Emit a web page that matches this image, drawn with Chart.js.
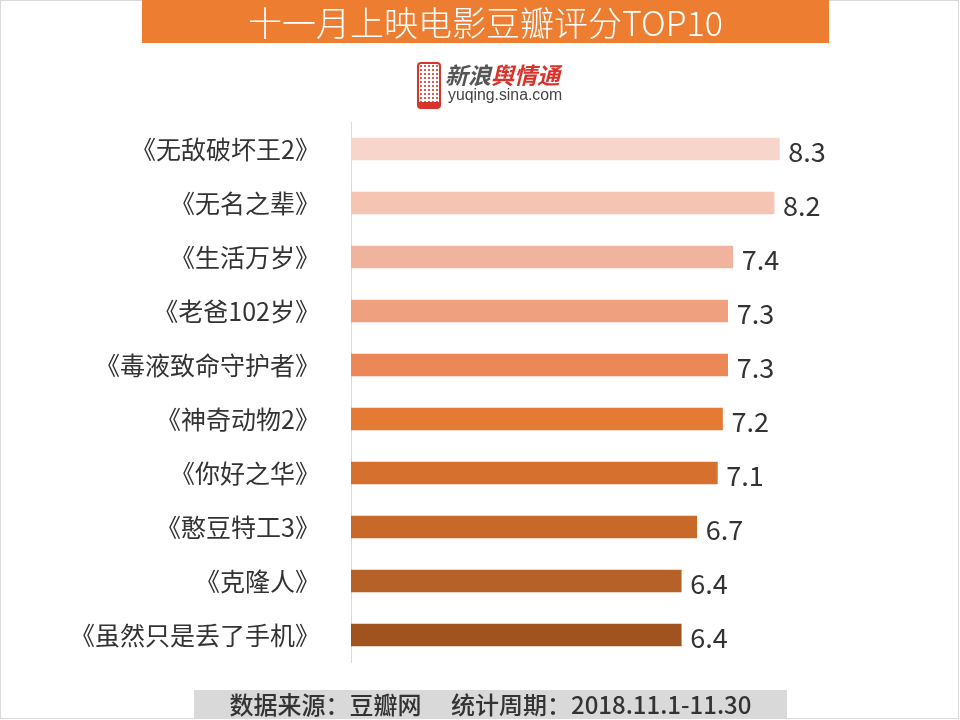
<!DOCTYPE html>
<html>
<head>
<meta charset="utf-8">
<script src="https://cdn.jsdelivr.net/npm/chart.js@4.4.0/dist/chart.umd.min.js"></script>
<style>
  html, body { margin: 0; padding: 0; background: #fff; }
  body { width: 960px; height: 720px; position: relative; overflow: hidden;
         font-family: "Noto Sans CJK SC", "Noto Sans", sans-serif; }
  #frame { position: absolute; left: 0; top: 0; width: 959px; height: 719px;
           box-sizing: border-box; border: 1px solid #d9d9d9; }
  #title { position: absolute; left: 142px; top: 0; width: 687px; height: 43px;
           background: #ED7D31; color: #fff; font-size: 34px; line-height: 43px;
           text-align: center; font-weight: 300; }
  #logo { position: absolute; left: 416px; top: 61px; width: 160px; height: 46px; }
  #phone { position: absolute; left: 1px; top: 1px; width: 20px; height: 38px;
           border: 2px solid #D9342B; border-radius: 4px; border-bottom-width: 7px;
           background: radial-gradient(circle, #E05A50 1px, transparent 1.3px) 0 0 / 4px 4px; }
  #logo .cn { position: absolute; left: 29px; top: 0px; font-size: 23px; line-height: 26px;
              font-style: italic; font-weight: bold; }
  #logo .cn .a { color: #555; }
  #logo .cn .b { color: #D9342B; }
  #logo .en { position: absolute; left: 32px; top: 25px; font-family: "Liberation Sans", Arial, sans-serif;
              font-size: 15.8px; color: #444; line-height: 18px; }
  #footer { position: absolute; left: 194px; top: 690px; width: 593px; height: 28px;
            background: #D9D9D9; color: #333; font-size: 24px; line-height: 28px;
            text-align: center; white-space: pre; font-weight: 500; }
  #wrap { position: absolute; left: 0; top: 0; width: 960px; height: 720px; }
</style>
</head>
<body>
<div id="frame"></div>
<div id="wrap"><canvas id="ChartScores" width="960" height="720"></canvas></div>
<div id="title">十一月上映电影豆瓣评分TOP10</div>
<div id="logo">
  <div id="phone"></div>
  <div class="cn"><span class="a">新浪</span><span class="b">舆情通</span></div>
  <div class="en">yuqing.sina.com</div>
</div>
<div id="footer">数据来源：豆瓣网　 统计周期：2018.11.1-11.30</div>

<script>
const peliculas = ['《无敌破坏王2》', '《无名之辈》', '《生活万岁》', '《老爸102岁》', '《毒液致命守护者》',
                   '《神奇动物2》', '《你好之华》', '《憨豆特工3》', '《克隆人》', '《虽然只是丢了手机》'];
const puntajes = [8.3, 8.2, 7.4, 7.3, 7.3, 7.2, 7.1, 6.7, 6.4, 6.4];
const colores = ['#F8D5CA', '#F5C4B3', '#F0B39D', '#EFA07F', '#EC8858',
                 '#E47A33', '#D6702E', '#C8692A', '#B66127', '#A1531F'];

const canvas = document.getElementById('ChartScores');
const ctx = canvas.getContext('2d');

const valueLabels = {
    id: 'valueLabels',
    afterDatasetsDraw(chart) {
        const c = chart.ctx;
        const meta = chart.getDatasetMeta(0);
        c.save();
        c.font = '27px "Noto Sans CJK SC"';
        c.fillStyle = '#333333';
        c.textBaseline = 'middle';
        c.textAlign = 'left';
        meta.data.forEach((bar, i) => {
            c.fillText(puntajes[i].toFixed(1), bar.x + 9, bar.y + 3);
        });
        c.restore();
    }
};

const chartScores = new Chart(ctx, {
    type: 'bar',
    data: {
        labels: peliculas,
        datasets: [{
            data: puntajes,
            backgroundColor: colores,
            barThickness: 22,
            borderWidth: 0
        }]
    },
    options: {
        indexAxis: 'y',
        responsive: false,
        animation: false,
        layout: { padding: { left: 0, right: 93, top: 122, bottom: 58 } },
        plugins: { legend: { display: false }, tooltip: { enabled: false } },
        scales: {
            x: { display: false, min: 0, max: 10 },
            y: {
                afterFit: (scale) => { scale.width = 351; },
                grid: { display: false, drawTicks: false },
                border: { display: true, color: '#D9D9D9', width: 1 },
                ticks: {
                    padding: 31,
                    color: '#333333',
                    font: { family: '"Noto Sans CJK SC"', size: 25 }
                }
            }
        }
    },
    plugins: [valueLabels]
});
</script>
</body>
</html>
